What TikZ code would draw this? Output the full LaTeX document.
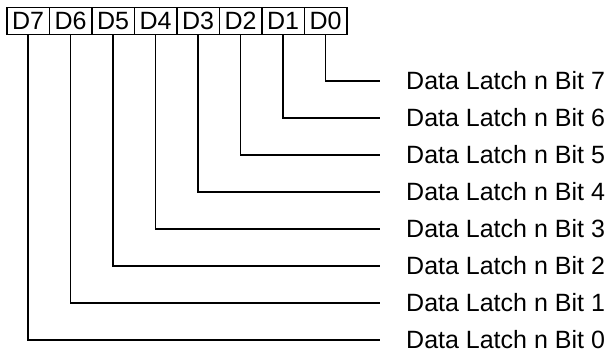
\documentclass[tikz,border=0pt]{standalone}
\usepackage{fontspec}
\setmainfont{Liberation Sans}
\begin{document}
\begin{tikzpicture}[x=1pt,y=-1pt,
  regbox/.style={draw,line width=1.5pt,minimum width=42.5pt,minimum height=27pt,inner sep=0pt,anchor=north west,font=\fontsize{25}{28}\selectfont},
  bitlabel/.style={anchor=west,inner sep=0pt,font=\fontsize{25}{28}\selectfont},
  wire/.style={line width=1.8pt}]
\useasboundingbox (0,0) rectangle (610,352);
\foreach \k [count=\i from 0] in {7,6,5,4,3,2,1,0} {
  \node[regbox] (d\k) at ({6+42.5*\i},7) {D\k};
}
\foreach \j in {0,...,7} {
  \node[bitlabel] (b\j) at (406,{340-37*\j}) {Data Latch n Bit \j};
  \coordinate (e\j) at (380,{340-37*\j});
}
\foreach \k in {0,...,7} {
  \pgfmathtruncatemacro{\j}{7-\k}
  \draw[wire] (d\k.south) |- (e\j);
}
\end{tikzpicture}
\end{document}
